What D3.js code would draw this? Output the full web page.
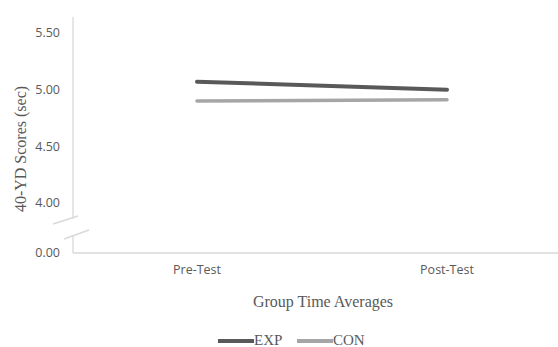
<!DOCTYPE html>
<html><head><meta charset="utf-8">
<script src="https://cdn.jsdelivr.net/npm/d3@7"></script>
<style>body{margin:0;background:#fff;}svg{display:block;}</style>
</head><body>
<svg id="c" width="558" height="347"></svg>
<script>
const categories = ["Pre-Test", "Post-Test"];
const seriesNames = ["EXP", "CON"];
const expValues = [5.07, 5.00];
const conValues = [4.90, 4.91];
const yTickValues = [4.00, 4.50, 5.00, 5.50];
const baseTickLabel = "0.00";
const colors = {EXP: "#595959", CON: "#a6a6a6"};

const svg = d3.select("#c");
const x = d3.scalePoint().domain(categories).range([197, 447]);
const y = d3.scaleLinear().domain([4.0, 5.5]).range([203, 33]);
const baseY = 253;

// y axis line segments (broken)
svg.append("line").attr("x1",73).attr("x2",73).attr("y1",17).attr("y2",219).attr("stroke","#d9d9d9").attr("stroke-width",1.3);
svg.append("line").attr("x1",73).attr("x2",73).attr("y1",235).attr("y2",baseY).attr("stroke","#d9d9d9").attr("stroke-width",1.3);
// break marks
svg.append("line").attr("x1",53).attr("y1",224).attr("x2",78).attr("y2",216).attr("stroke","#d9d9d9").attr("stroke-width",1.5);
svg.append("line").attr("x1",64).attr("y1",239).attr("x2",89).attr("y2",230).attr("stroke","#d9d9d9").attr("stroke-width",1.5);
// x axis line
svg.append("line").attr("x1",73).attr("x2",558).attr("y1",baseY).attr("y2",baseY).attr("stroke","#d9d9d9").attr("stroke-width",1.5);

// y tick labels
const tickFont = "'Open Sans', 'Noto Sans', sans-serif";
svg.append("g").selectAll("text").data(yTickValues).join("text")
  .attr("x",60).attr("y",d=>y(d)).attr("dy","0.35em").attr("text-anchor","end")
  .attr("font-family",tickFont).attr("font-size",12.5).attr("fill","#595959")
  .text(d=>d3.format(".2f")(d));
svg.append("text").attr("x",60).attr("y",baseY).attr("dy","0.35em").attr("text-anchor","end")
  .attr("font-family",tickFont).attr("font-size",12.5).attr("fill","#595959").text(baseTickLabel);

// x tick labels
svg.append("g").selectAll("text").data(categories).join("text")
  .attr("x",d=>x(d)).attr("y",274).attr("text-anchor","middle")
  .attr("font-family",tickFont).attr("font-size",12.5).attr("fill","#595959").text(d=>d);

// axis titles
svg.append("text").attr("x",323).attr("y",307).attr("text-anchor","middle")
  .attr("font-family","'Liberation Serif', serif").attr("font-size",16).attr("fill","#595959").text("Group Time Averages");
svg.append("text").attr("transform","translate(26,149) rotate(-90)").attr("text-anchor","middle")
  .attr("font-family","'Liberation Serif', serif").attr("font-size",16).attr("fill","#595959").text("40-YD Scores (sec)");

// lines
const line = d3.line().x((d,i)=>x(categories[i])).y(d=>y(d));
const data = [{name:"CON", values:conValues},{name:"EXP", values:expValues}];
svg.append("g").selectAll("path").data(data).join("path")
  .attr("d",d=>line(d.values)).attr("fill","none").attr("stroke",d=>colors[d.name])
  .attr("stroke-width",d=>d.name==="EXP"?4:3.5).attr("stroke-linecap","round");

// legend
const legendItems = [{name:"EXP", x:218},{name:"CON", x:297}];
const lg = svg.append("g");
legendItems.forEach(it=>{
  lg.append("line").attr("x1",it.x).attr("x2",it.x+36).attr("y1",341).attr("y2",341)
    .attr("stroke",colors[it.name]).attr("stroke-width",4);
  lg.append("text").attr("x",it.x+36).attr("y",345).attr("font-family","'Liberation Serif', serif")
    .attr("font-size",15).attr("fill","#595959").text(it.name);
});
</script>
</body></html>
